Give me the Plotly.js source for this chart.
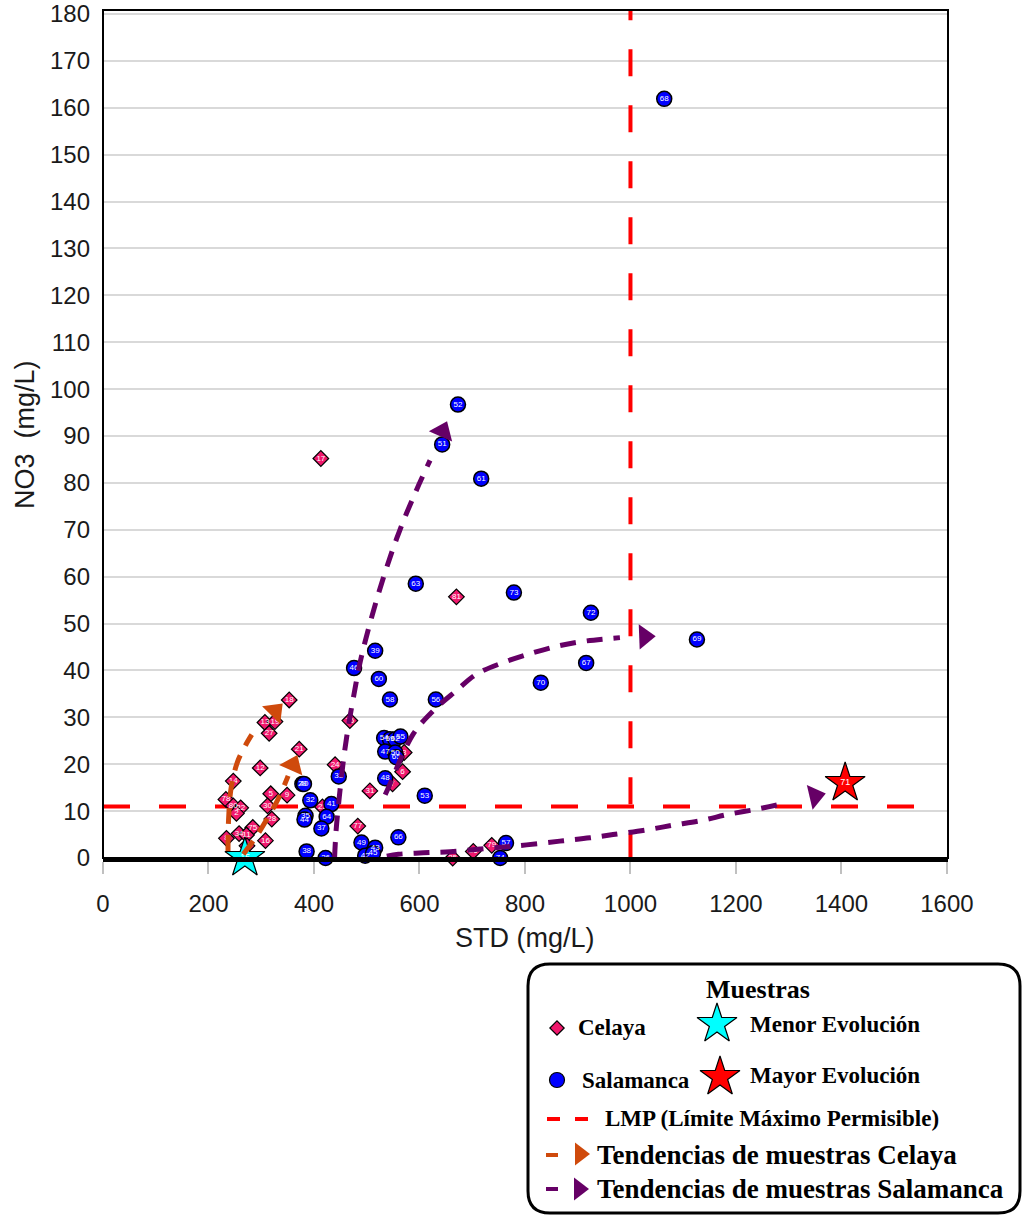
<!DOCTYPE html>
<html>
<head>
<meta charset="utf-8">
<script src="https://cdn.plot.ly/plotly-3.0.1.min.js"></script>
<style>
  html, body { margin: 0; padding: 0; background: #fff; }
  #chart { width: 1023px; height: 1216px; }
</style>
</head>
<body>
<div id="chart"></div>
<script>
// Celaya samples: total dissolved solids (STD, mg/L) against nitrate (NO3, mg/L)
const celayaIds = ['18','13','19','27','21','12','14','76','24','31','5','9','78','80','22','2','30','28','77','75','34','11','8','16','10','17','81','6','7','3','23','25','26','79'];
const celayaStd = [353,307,326,315,372,298,247,468,440,506,318,349,233,247,261,253,312,320,483,284,258,272,234,308,273,413,670,568,549,571,416,663,702,737];
const celayaNo3 = [33.7,28.9,29.1,26.6,23.2,19.2,16.4,29.3,19.9,14.3,13.7,13.4,12.5,11.1,10.7,9.5,11.1,8.3,6.8,6.5,5.2,4.9,4.2,3.7,2.6,85.2,55.7,18.4,15.8,22.5,10.9,0,1.4,2.7];

// Salamanca samples
const salamancaIds = ['68','52','51','61','63','73','72','69','67','70','39','46','60','58','56','33','53','29','40','32','41','64','35','44','37','38','36','49','43','42','45','66','57','74','54','59','62','55','47','50','65','48'];
const salamancaStd = [1064,673,643,717,593,779,925,1126,916,830,516,476,523,544,631,447,610,378,381,393,433,424,384,382,414,386,422,490,516,497,512,560,764,753,533,544,554,564,535,554,556,535];
const salamancaNo3 = [161.9,96.7,88.2,80.9,58.5,56.6,52.3,46.6,41.6,37.4,44.2,40.5,38.2,33.8,33.8,17.4,13.3,15.8,15.8,12.3,11.5,8.8,9.0,8.2,6.3,1.4,0,3.3,2.2,0.5,1.0,4.4,3.2,0,25.6,25.3,25.3,25.9,22.7,22.5,21.5,17.0];

// Least and most evolved samples
const menorId = ['15'];  const menorStd = [269];  const menorNo3 = [0];
const mayorId = ['71'];  const mayorStd = [1407]; const mayorNo3 = [16.0];

// Maximum permissible limits (LMP)
const lmpNo3 = 11;
const lmpStd = 1000;

// Trend paths (the last two points orient the arrowhead)
const celayaTrend1Std = [237,238,243,255,270,282];
const celayaTrend1No3 = [1.5,8,15,20.5,24,26.3];
const celayaTrend1Head = {std: [282, 326], no3: [26.3, 31.3]};
const celayaTrend2Std = [266,290,312,333,351];
const celayaTrend2No3 = [0.8,4.5,8.5,12.8,17.5];
const celayaTrend2Head = {std: [351, 360], no3: [17.5, 19.8]};

const salTrend1Std = [439,442,448,456,465,476,488,506,535,563,594,620];
const salTrend1No3 = [0,6,13,21,28,35,42,50,61,70,78.4,84.8];
const salTrend1Head = {std: [620, 644], no3: [84.8, 91.0]};
const salTrend2Std = [535,541,588,626,670,708,759,816,866,917,980];
const salTrend2No3 = [13.5,15.0,26.4,31.4,35.7,39.2,41.7,43.8,45.3,46.3,47.0];
const salTrend2Head = {std: [980, 1027], no3: [47.0, 47.2]};
const salTrend3Std = [538,560,607,658,715,765,803,866,923,967,1030,1081,1135,1185,1239,1289];
const salTrend3No3 = [0.4,0.8,1.1,1.35,1.9,2.4,2.8,3.6,4.3,5.0,6.0,7.0,8.0,9.3,10.4,11.6];
const salTrend3Head = {std: [1289, 1350], no3: [11.6, 13.2]};

const xTicks = [0,200,400,600,800,1000,1200,1400,1600];
const yTicks = [0,10,20,30,40,50,60,70,80,90,100,110,120,130,140,150,160,170,180];

// ---- styling ----
const W = 1023, H = 1216;
const PINK = '#F0186C', BLUE = '#0000FF', ORANGE = '#CF4A0C', PURPLE = '#660066', RED = '#FF0000';
const SANS = 'Liberation Sans, Arial, sans-serif';
const SERIF = 'Liberation Serif, Times New Roman, serif';
const plotLeft = 103, plotRight = 948, plotTop = 10, plotBottom = 858;

function trendLine(xs, ys, color) {
  return {x: xs, y: ys, mode: 'lines', type: 'scatter', hoverinfo: 'skip',
          line: {color: color, width: 5, dash: '16px,11px', shape: 'spline', smoothing: 1},
          cliponaxis: false};
}
function arrowHead(head, color, size) {
  return {x: head.std, y: head.no3, mode: 'markers', type: 'scatter', hoverinfo: 'skip',
          marker: {symbol: 'triangle-up', angleref: 'previous', size: [0, size],
                   opacity: [0, 1], color: color, line: {width: 0}},
          cliponaxis: false};
}

const traces = [
  {x: celayaStd, y: celayaNo3, text: celayaIds, type: 'scatter', mode: 'markers+text', name: 'Celaya',
   marker: {symbol: 'diamond', size: 12, color: PINK, line: {color: '#000', width: 1.2}},
   textposition: 'middle center', textfont: {family: SANS, size: 8, color: '#fff'}, cliponaxis: false},
  {x: salamancaStd, y: salamancaNo3, text: salamancaIds, type: 'scatter', mode: 'markers+text', name: 'Salamanca',
   marker: {symbol: 'circle', size: 15, color: BLUE, line: {color: '#000', width: 1.5}},
   textposition: 'middle center', textfont: {family: SANS, size: 8, color: '#fff'}, cliponaxis: false},
  {x: menorStd, y: menorNo3, text: menorId, type: 'scatter', mode: 'markers+text', name: 'Menor Evolución',
   marker: {symbol: 'star', size: 30, color: '#00FFFF', line: {color: '#000', width: 1.2}},
   textposition: 'middle center', textfont: {family: SANS, size: 9, color: '#fff'}, cliponaxis: false},
  {x: mayorStd, y: mayorNo3, text: mayorId, type: 'scatter', mode: 'markers+text', name: 'Mayor Evolución',
   marker: {symbol: 'star', size: 30, color: RED, line: {color: '#000', width: 1.2}},
   textposition: 'middle center', textfont: {family: SANS, size: 9, color: '#fff'}, cliponaxis: false},
  trendLine(celayaTrend1Std, celayaTrend1No3, ORANGE),
  arrowHead(celayaTrend1Head, ORANGE, 22),
  trendLine(celayaTrend2Std, celayaTrend2No3, ORANGE),
  arrowHead(celayaTrend2Head, ORANGE, 22),
  trendLine(salTrend1Std, salTrend1No3, PURPLE),
  arrowHead(salTrend1Head, PURPLE, 22),
  trendLine(salTrend2Std, salTrend2No3, PURPLE),
  arrowHead(salTrend2Head, PURPLE, 22),
  trendLine(salTrend3Std, salTrend3No3, PURPLE),
  arrowHead(salTrend3Head, PURPLE, 22)
];

// ---- legend box drawn on a pixel-unit overlay (x2/y2) ----
const legendMarkers = [
  {x: [557], y: [1028], symbol: 'diamond', size: 11, color: PINK},
  {x: [557], y: [1080], symbol: 'circle', size: 15, color: BLUE},
  {x: [717], y: [1024], symbol: 'star', size: 30, color: '#00FFFF'},
  {x: [720], y: [1077], symbol: 'star', size: 30, color: RED},
  {x: [580], y: [1154], symbol: 'triangle-right', size: 20, color: ORANGE, noline: true},
  {x: [579], y: [1189], symbol: 'triangle-right', size: 20, color: PURPLE, noline: true}
];
legendMarkers.forEach(m => traces.push({
  x: m.x, y: m.y, xaxis: 'x2', yaxis: 'y2', type: 'scatter', mode: 'markers', hoverinfo: 'skip',
  marker: {symbol: m.symbol, size: m.size, color: m.color,
           line: {color: '#000', width: m.noline ? 0 : 1.2}}, cliponaxis: false
}));

const legendText = [
  {x: 758, y: 989, text: '<b>Muestras</b>', size: 26, anchor: 'center'},
  {x: 576, y: 1027, text: '<b>Celaya</b>', size: 23},
  {x: 748, y: 1024, text: '<b>Menor Evolución</b>', size: 23},
  {x: 580, y: 1080, text: '<b>Salamanca</b>', size: 23},
  {x: 748, y: 1075, text: '<b>Mayor Evolución</b>', size: 23},
  {x: 603, y: 1118, text: '<b>LMP (Límite Máximo Permisible)</b>', size: 23},
  {x: 595, y: 1155, text: '<b>Tendencias de muestras Celaya</b>', size: 27},
  {x: 595, y: 1189, text: '<b>Tendencias de muestras Salamanca</b>', size: 27}
];

const annotations = legendText.map(t => ({
  xref: 'x2', yref: 'y2', x: t.x, y: t.y, text: t.text, showarrow: false,
  xanchor: t.anchor || 'left', yanchor: 'middle',
  font: {family: SERIF, size: t.size, color: '#000'}
}));

// axis titles
annotations.push({xref: 'x2', yref: 'y2', x: 525, y: 938, text: 'STD (mg/L)', showarrow: false,
  xanchor: 'center', yanchor: 'middle', font: {family: SANS, size: 27, color: '#1a1a1a'}});
annotations.push({xref: 'x2', yref: 'y2', x: 25, y: 435, text: 'NO3  (mg/L)', showarrow: false,
  textangle: -90, xanchor: 'center', yanchor: 'middle', font: {family: SANS, size: 27, color: '#1a1a1a'}});

const r = 22, bx0 = 528, bx1 = 1020, by0 = 964, by1 = 1213;
const legendPath = `M ${bx0 + r} ${by0} L ${bx1 - r} ${by0} Q ${bx1} ${by0} ${bx1} ${by0 + r} ` +
  `L ${bx1} ${by1 - r} Q ${bx1} ${by1} ${bx1 - r} ${by1} L ${bx0 + r} ${by1} ` +
  `Q ${bx0} ${by1} ${bx0} ${by1 - r} L ${bx0} ${by0 + r} Q ${bx0} ${by0} ${bx0 + r} ${by0} Z`;

const shapes = [
  // LMP lines
  {type: 'line', xref: 'x', yref: 'y', x0: 0, x1: 1545, y0: lmpNo3, y1: lmpNo3, layer: 'between',
   line: {color: RED, width: 4, dash: '27px,29px'}},
  {type: 'line', xref: 'x', yref: 'y', x0: lmpStd, x1: lmpStd, y0: -0.5, y1: 180.85, layer: 'between',
   line: {color: RED, width: 4, dash: '27px,29px'}},
  // plot frame
  {type: 'rect', xref: 'x2', yref: 'y2', x0: plotLeft, x1: plotRight, y0: plotTop, y1: plotBottom,
   line: {color: '#000', width: 2}, layer: 'above'},
  // legend box
  {type: 'path', xref: 'x2', yref: 'y2', path: legendPath, line: {color: '#000', width: 3}},
  // legend dashes
  {type: 'line', xref: 'x2', yref: 'y2', x0: 547, x1: 560, y0: 1119, y1: 1119, line: {color: RED, width: 4}},
  {type: 'line', xref: 'x2', yref: 'y2', x0: 575, x1: 588, y0: 1119, y1: 1119, line: {color: RED, width: 4}},
  {type: 'line', xref: 'x2', yref: 'y2', x0: 546, x1: 558, y0: 1155, y1: 1155, line: {color: ORANGE, width: 4}},
  {type: 'line', xref: 'x2', yref: 'y2', x0: 546, x1: 558, y0: 1189, y1: 1189, line: {color: PURPLE, width: 4}}
];

const layout = {
  width: W, height: H,
  margin: {l: 0, r: 0, t: 0, b: 0},
  paper_bgcolor: '#ffffff', plot_bgcolor: 'rgba(0,0,0,0)',
  showlegend: false,
  xaxis: {
    domain: [plotLeft / W, plotRight / W], range: [0, 1602],
    tickvals: xTicks, ticktext: xTicks.map(String),
    ticks: 'outside', ticklen: 12, tickwidth: 2, tickcolor: '#c0c0c0',
    showgrid: false, zeroline: false,
    showline: true, linecolor: '#000', linewidth: 4,
    tickfont: {family: SANS, size: 24, color: '#1a1a1a'}, ticklabelstandoff: 9,
    fixedrange: true
  },
  yaxis: {
    domain: [1 - plotBottom / H, 1 - plotTop / H], range: [0, 180.85],
    tickvals: yTicks, ticktext: yTicks.map(String),
    ticks: '', showgrid: true, gridcolor: '#d9d9d9', gridwidth: 2,
    zeroline: false, showline: false,
    tickfont: {family: SANS, size: 24, color: '#1a1a1a'}, ticklabelstandoff: 12,
    fixedrange: true
  },
  xaxis2: {domain: [0, 1], range: [0, W], visible: false, anchor: 'y2', fixedrange: true},
  yaxis2: {domain: [0, 1], range: [H, 0], visible: false, anchor: 'x2', fixedrange: true},
  shapes: shapes,
  annotations: annotations
};

Plotly.newPlot('chart', traces, layout, {displayModeBar: false, staticPlot: true});
</script>
</body>
</html>
